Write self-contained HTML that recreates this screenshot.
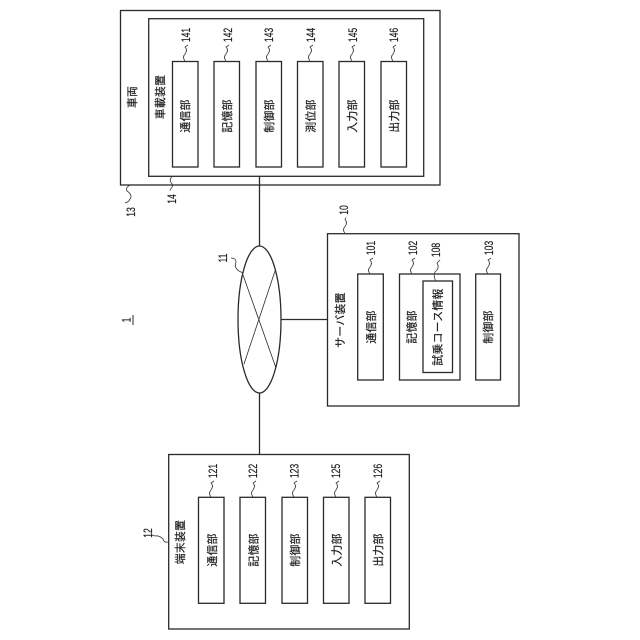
<!DOCTYPE html>
<html lang="ja"><head><meta charset="utf-8"><title>図</title>
<style>
html,body{margin:0;padding:0;background:#fff}
svg{display:block}
text{font-family:"Liberation Sans","Noto Sans CJK JP",sans-serif;fill:#1c1c1c;text-anchor:middle;stroke:#1c1c1c;stroke-width:.2}
.j{font-size:10.8px;letter-spacing:.3px}
.n{font-size:11.5px}
rect,ellipse,line{fill:none;stroke:#2a2a2a;stroke-width:1.3}
path{fill:none;stroke:#333;stroke-width:.8}
</style></head><body>
<svg width="640" height="640" viewBox="0 0 640 640" xmlns="http://www.w3.org/2000/svg">
<!-- vehicle -->
<rect x="120.5" y="10.5" width="319.5" height="174.5"/>
<rect x="148.7" y="18.7" width="275" height="157.6"/>
<rect x="172.5" y="61.5" width="25.5" height="105.5"/>
<rect x="214" y="61.5" width="25.5" height="105.5"/>
<rect x="256" y="61.5" width="25.5" height="105.5"/>
<rect x="297.5" y="61.5" width="25.5" height="105.5"/>
<rect x="339" y="61.5" width="25.5" height="105.5"/>
<rect x="381" y="61.5" width="25.5" height="105.5"/>
<!-- network -->
<line x1="259.5" y1="176.3" x2="259.5" y2="246"/>
<ellipse cx="259.5" cy="319.5" rx="21.5" ry="73.5"/>
<line x1="243" y1="275" x2="276" y2="368" style="stroke-width:.8"/>
<line x1="275" y1="271" x2="244" y2="364" style="stroke-width:.8"/>
<line x1="281" y1="319.5" x2="327.5" y2="319.5"/>
<line x1="259.5" y1="393" x2="259.5" y2="454.5"/>
<!-- server -->
<rect x="327.5" y="233.7" width="191.5" height="172.3"/>
<rect x="357.7" y="274" width="25.6" height="106"/>
<rect x="399.5" y="274" width="60.5" height="106"/>
<rect x="423" y="281" width="29.5" height="91.5"/>
<rect x="475.7" y="274" width="24.8" height="106"/>
<!-- terminal -->
<rect x="168.7" y="454.5" width="240.6" height="174.5"/>
<rect x="198.5" y="497.3" width="25.5" height="106"/>
<rect x="240" y="497.3" width="25.5" height="106"/>
<rect x="282" y="497.3" width="25.5" height="106"/>
<rect x="323.5" y="497.3" width="25.5" height="106"/>
<rect x="365" y="497.3" width="25.5" height="106"/>
<!-- squiggles -->
<path d="M185 61 q-3 -4 0 -7 q3 -4 0 -7 l3 -2"/>
<path d="M226 61 q-3 -4 0 -7 q3 -4 0 -7 l3 -2"/>
<path d="M268 61 q-3 -4 0 -7 q3 -4 0 -7 l3 -2"/>
<path d="M310 61 q-3 -4 0 -7 q3 -4 0 -7 l3 -2"/>
<path d="M352 61 q-3 -4 0 -7 q3 -4 0 -7 l3 -2"/>
<path d="M393 61 q-3 -4 0 -7 q3 -4 0 -7 l3 -2"/>
<path d="M172 176.5 q-3 3 -1 6 q3 3 0 6 l-1 2"/>
<path d="M130 185 q-5 3 -3 6 q6 4 3 8 q-1 3 -5 4"/>
<path d="M345 233.5 q-3 -4 0 -7 q3 -4 0 -7 l1 -2"/>
<path d="M370 274 q-3 -4 0 -7 q3 -4 0 -7 l3 -2"/>
<path d="M412 274 q-3 -4 0 -7 q3 -4 0 -7 l3 -2"/>
<path d="M436 281 q-3 -4 -1 -9 q5 -4 2 -9 l3 -3"/>
<path d="M488 274 q-3 -4 0 -7 q3 -4 0 -7 l3 -2"/>
<path d="M231 258 q5 0 5 4 q-2 6 3 9 l4 2"/>
<path d="M211 497 q-3 -4 0 -7 q3 -4 0 -7 l3 -2"/>
<path d="M253 497 q-3 -4 0 -7 q3 -4 0 -7 l3 -2"/>
<path d="M294 497 q-3 -4 0 -7 q3 -4 0 -7 l3 -2"/>
<path d="M336 497 q-3 -4 0 -7 q3 -4 0 -7 l3 -2"/>
<path d="M377 497 q-3 -4 0 -7 q3 -4 0 -7 l3 -2"/>
<path d="M168 542 q-4 1 -5 -3 q-4 -4 -8 -3 l-3 -1"/>
<!-- underline of 1 -->
<line x1="133" y1="315" x2="133" y2="325" style="stroke-width:1"/>
<!-- labels vehicle -->
<text class="j" transform="translate(136,97) rotate(-90)">車両</text>
<text class="j" transform="translate(164,97) rotate(-90)">車載装置</text>
<text class="j" transform="translate(189,116) rotate(-90)">通信部</text>
<text class="j" transform="translate(231,116) rotate(-90)">記憶部</text>
<text class="j" transform="translate(273,116) rotate(-90)">制御部</text>
<text class="j" transform="translate(314.5,116) rotate(-90)">測位部</text>
<text class="j" transform="translate(356,116) rotate(-90)">入力部</text>
<text class="j" transform="translate(398,116) rotate(-90)">出力部</text>
<text class="n" transform="translate(190,35) rotate(-90) scale(.75,1)">141</text>
<text class="n" transform="translate(232,35) rotate(-90) scale(.75,1)">142</text>
<text class="n" transform="translate(273,35) rotate(-90) scale(.75,1)">143</text>
<text class="n" transform="translate(315,35) rotate(-90) scale(.75,1)">144</text>
<text class="n" transform="translate(357,35) rotate(-90) scale(.75,1)">145</text>
<text class="n" transform="translate(398,35) rotate(-90) scale(.75,1)">146</text>
<text class="n" transform="translate(176,199) rotate(-90) scale(.75,1)">14</text>
<text class="n" transform="translate(135,212) rotate(-90) scale(.75,1)">13</text>
<text class="n" transform="translate(348,210) rotate(-90) scale(.75,1)">10</text>
<text class="n" transform="translate(227,258) rotate(-90) scale(.75,1)">11</text>
<text class="n" transform="translate(130.5,320) rotate(-90) scale(.75,1)">1</text>
<!-- labels server -->
<text class="j" transform="translate(344,320) rotate(-90)">サーバ装置</text>
<text class="j" transform="translate(375,327) rotate(-90)">通信部</text>
<text class="j" transform="translate(415.5,327) rotate(-90)">記憶部</text>
<text class="j" transform="translate(441.5,327) rotate(-90)">試乗コース情報</text>
<text class="j" transform="translate(492,327) rotate(-90)">制御部</text>
<text class="n" transform="translate(375,248) rotate(-90) scale(.75,1)">101</text>
<text class="n" transform="translate(417,248) rotate(-90) scale(.75,1)">102</text>
<text class="n" transform="translate(440,250) rotate(-90) scale(.75,1)">108</text>
<text class="n" transform="translate(493,248) rotate(-90) scale(.75,1)">103</text>
<!-- labels terminal -->
<text class="j" transform="translate(184,542) rotate(-90)">端末装置</text>
<text class="j" transform="translate(216,550) rotate(-90)">通信部</text>
<text class="j" transform="translate(257.5,550) rotate(-90)">記憶部</text>
<text class="j" transform="translate(299,550) rotate(-90)">制御部</text>
<text class="j" transform="translate(340.5,550) rotate(-90)">入力部</text>
<text class="j" transform="translate(382,550) rotate(-90)">出力部</text>
<text class="n" transform="translate(217,471) rotate(-90) scale(.75,1)">121</text>
<text class="n" transform="translate(257,471) rotate(-90) scale(.75,1)">122</text>
<text class="n" transform="translate(298.5,471) rotate(-90) scale(.75,1)">123</text>
<text class="n" transform="translate(340,471) rotate(-90) scale(.75,1)">125</text>
<text class="n" transform="translate(382,471) rotate(-90) scale(.75,1)">126</text>
<text class="n" transform="translate(152,533) rotate(-90) scale(.75,1)">12</text>
</svg>
</body></html>
